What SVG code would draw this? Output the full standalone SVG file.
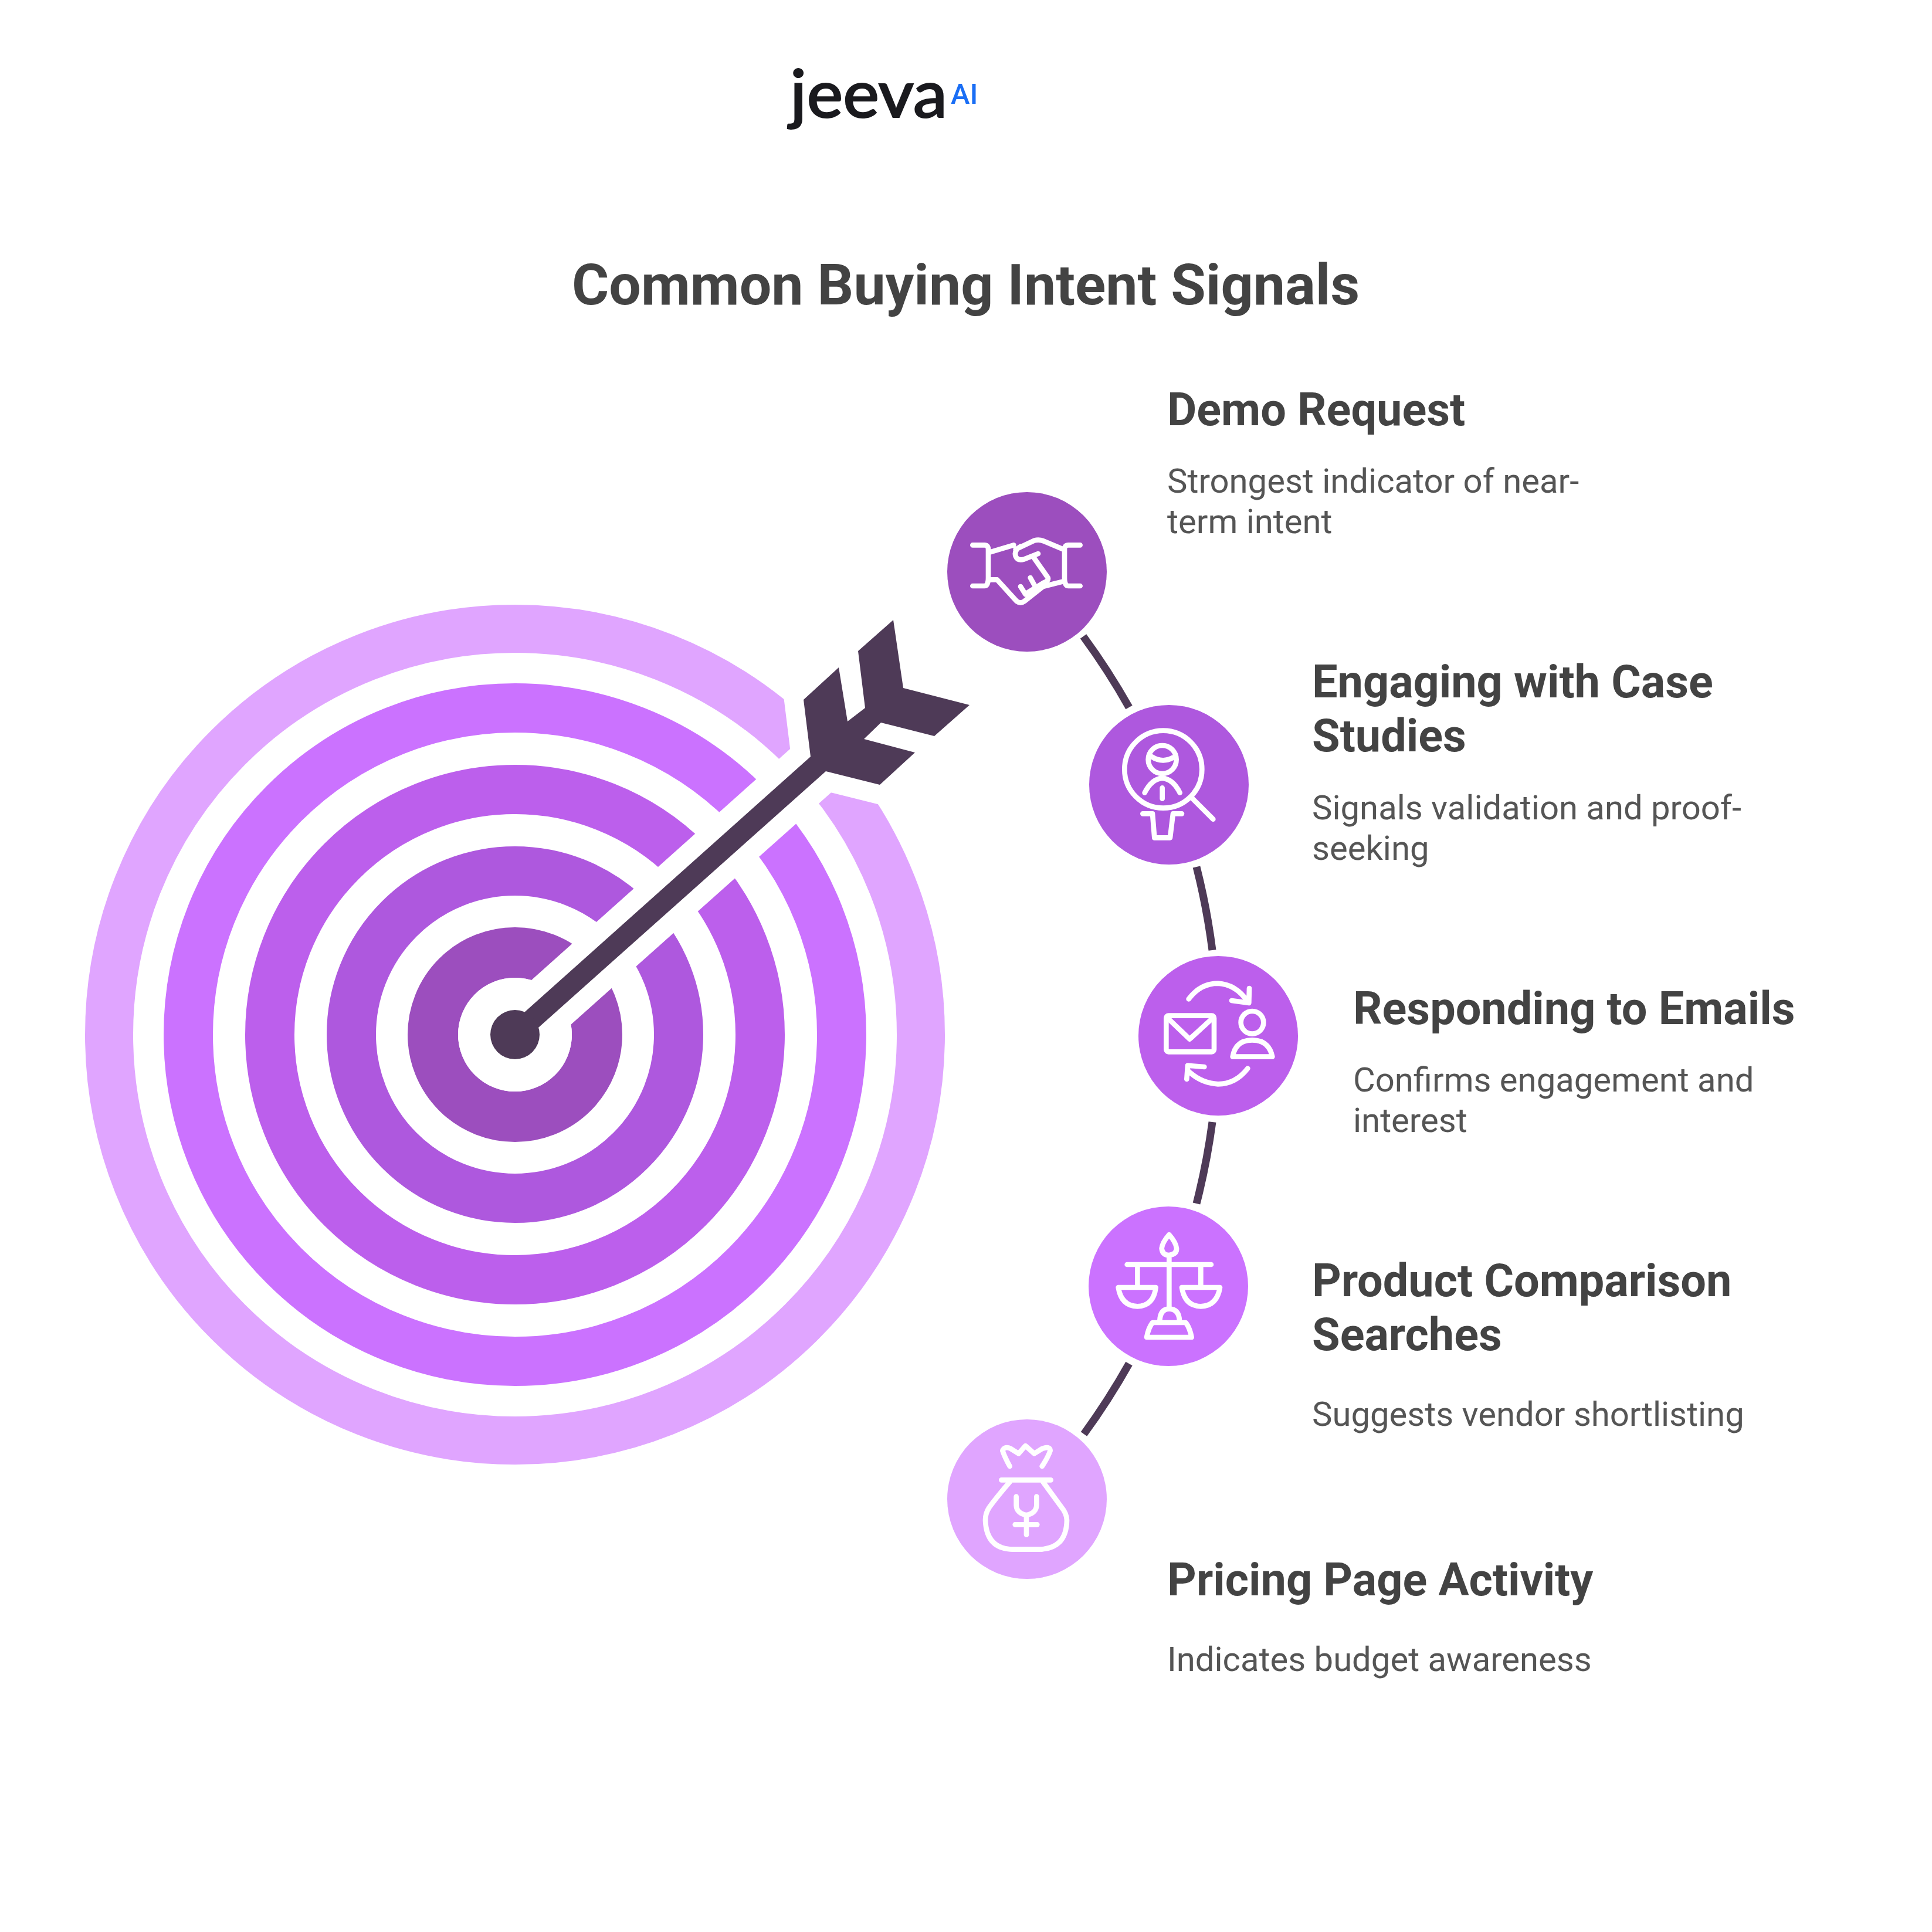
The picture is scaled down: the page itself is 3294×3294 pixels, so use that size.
<svg xmlns="http://www.w3.org/2000/svg" width="3294" height="3294" viewBox="0 0 3294 3294">
<style>
.t{font-family:Roboto,"Liberation Sans",sans-serif;font-weight:700;font-size:96.8px;fill:#434343}
.h{font-family:Roboto,"Liberation Sans",sans-serif;font-weight:700;font-size:77.4px;fill:#434343}
.d{font-family:Roboto,"Liberation Sans",sans-serif;font-weight:400;font-size:58px;fill:#555555}
.i{fill:none;stroke:#fff;stroke-width:26;stroke-linecap:round;stroke-linejoin:round}
.c{fill:none;stroke:#4e3a57;stroke-width:13}
</style>
<rect width="3294" height="3294" fill="#fff"/>
<g id="logo">
<text x="1347" y="200" font-family="Lato,sans-serif" font-weight="500" font-size="112" fill="#1a1a1e" stroke="#1a1a1e" stroke-width="2" textLength="268" lengthAdjust="spacingAndGlyphs">jeeva</text>
<text x="1621" y="177" font-family="Roboto,sans-serif" font-weight="500" font-size="49" fill="#1a6ef5">AI</text>
</g>
<text class="t" x="975" y="519">Common Buying Intent Signals</text>
<g id="target">
<circle cx="878" cy="1764" r="692" fill="none" stroke="#e0a5ff" stroke-width="82"/>
<circle cx="878" cy="1764" r="557" fill="none" stroke="#cb72ff" stroke-width="84"/>
<circle cx="878" cy="1764" r="418" fill="none" stroke="#bc5fec" stroke-width="84"/>
<circle cx="878" cy="1764" r="279" fill="none" stroke="#ae58de" stroke-width="84"/>
<circle cx="878" cy="1764" r="140" fill="none" stroke="#9c4ebe" stroke-width="86"/>
</g>
<g id="arrow">
<path d="M866 1751L1382 1290L1370 1193L1430 1138L1445 1230L1475 1207L1463 1110L1523 1057L1540 1173L1653 1202L1593 1255L1502 1232L1473 1260L1560 1283L1500 1338L1408 1315L890 1777Z" fill="#fff" stroke="#fff" stroke-width="66" stroke-linejoin="miter"/>
<circle cx="878" cy="1764" r="97" fill="#fff"/>
<path d="M866 1751L1382 1290L1370 1193L1430 1138L1445 1230L1475 1207L1463 1110L1523 1057L1540 1173L1653 1202L1593 1255L1502 1232L1473 1260L1560 1283L1500 1338L1408 1315L890 1777Z" fill="#4e3a57"/>
<circle cx="878" cy="1764" r="42" fill="#4e3a57"/>
</g>
<g id="connectors">
<path class="c" d="M1847 1085A1199 1199 0 0 1 1925 1206"/>
<path class="c" d="M2040 1478A1199 1199 0 0 1 2067 1620"/>
<path class="c" d="M2067 1913A1199 1199 0 0 1 2040 2052"/>
<path class="c" d="M1925 2325A1199 1199 0 0 1 1848 2445"/>
</g>
<g id="node-demo">
<circle cx="1751" cy="975" r="136" fill="#9c4ebe"/>
<g class="i" transform="translate(1600 830) scale(.3333)">
<path d="M175 298H235Q255 298 255 320V465Q255 507 235 507H175M725 298H665Q645 298 645 320V465Q645 507 665 507H725"/>
<path d="M262 335L385 298M395 320L490 275Q515 268 540 278L640 320M420 305Q385 325 395 355Q405 380 440 370L510 342M490 365L560 465Q565 480 540 490L450 545M262 475H300L400 585Q420 600 440 585L535 510L635 485M420 510L445 550M470 465L495 510"/>
</g>
<text class="h" x="1990" y="725">Demo Request</text>
<text class="d" x="1990" y="840">Strongest indicator of near-</text>
<text class="d" x="1990" y="909">term intent</text>
</g>
<g id="node-case">
<circle cx="1993" cy="1338" r="136" fill="#ae58de"/>
<g class="i" transform="translate(1850 1190) scale(.3333)">
<circle cx="400" cy="365" r="198"/><circle cx="395" cy="315" r="72"/>
<path d="M340 300Q395 335 450 305M305 485Q340 415 395 410Q450 415 485 485M395 460V515M545 510L655 620M295 592H345L355 715H435L450 592H495"/>
</g>
<text class="h" x="2237" y="1189">Engaging with Case</text>
<text class="h" x="2237" y="1281">Studies</text>
<text class="d" x="2237" y="1397">Signals validation and proof-</text>
<text class="d" x="2237" y="1466">seeking</text>
</g>
<g id="node-emails">
<circle cx="2077" cy="1766" r="136" fill="#bc5fec"/>
<g class="i" transform="translate(1930 1620) scale(.3333)">
<path d="M290 250Q350 170 440 170Q530 175 590 260M600 195L598 270L510 258M592 605Q530 685 440 685Q350 680 285 615M280 660L285 590L370 597"/>
<rect x="175" y="335" width="245" height="185" rx="12"/>
<path d="M185 350L295 455L410 350"/>
<circle cx="615" cy="370" r="58"/>
<path d="M515 545Q530 460 615 460Q700 460 718 545Z"/>
</g>
<text class="h" x="2307" y="1746">Responding to Emails</text>
<text class="d" x="2307" y="1861">Confirms engagement and</text>
<text class="d" x="2307" y="1930">interest</text>
</g>
<g id="node-comparison">
<circle cx="1992" cy="2193" r="136" fill="#cb72ff"/>
<g class="i" transform="translate(1850 2050) scale(.3333)">
<path d="M430 165Q395 205 392 235Q395 270 430 270Q470 265 468 235Q465 205 430 165ZM430 270V545M215 318H645M268 318V425M592 318V425M170 435H362Q350 530 268 532Q185 530 170 435ZM495 435H690Q675 530 592 532Q510 530 495 435ZM382 605Q385 545 430 545Q480 545 483 605M345 615H515Q535 640 545 690H315Q325 640 345 615Z"/>
</g>
<text class="h" x="2237" y="2210">Product Comparison</text>
<text class="h" x="2237" y="2302">Searches</text>
<text class="d" x="2237" y="2431">Suggests vendor shortlisting</text>
</g>
<g id="node-pricing">
<circle cx="1751" cy="2556" r="136" fill="#e0a5ff"/>
<g class="i" transform="translate(1600 2410) scale(.3333)">
<path d="M365 270Q340 225 328 190Q340 165 370 180L410 205L445 165L490 205L530 180Q570 165 572 190Q560 225 530 270M322 340H575M365 350Q300 425 260 480Q240 510 240 545Q245 695 385 695H510Q655 695 657 545Q655 510 630 480L535 350M398 425V470Q400 510 450 520Q500 510 502 470V425M450 520V620M392 568H505"/>
</g>
<text class="h" x="1990" y="2720">Pricing Page Activity</text>
<text class="d" x="1990" y="2849">Indicates budget awareness</text>
</g>
</svg>
